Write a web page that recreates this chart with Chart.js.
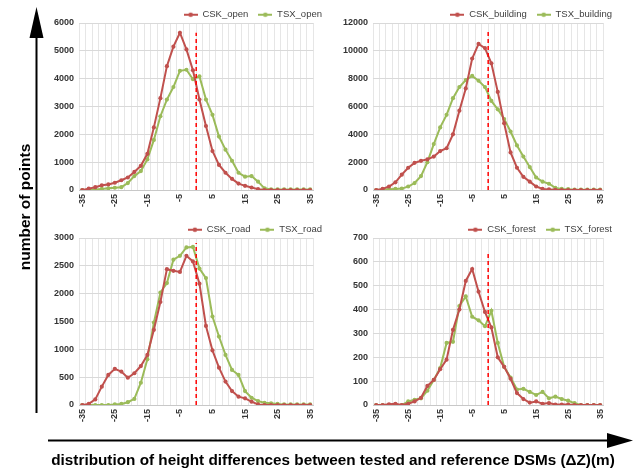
<!DOCTYPE html>
<html>
<head>
<meta charset="utf-8">
<script src="https://cdn.jsdelivr.net/npm/chart.js@4.4.0/dist/chart.umd.min.js"></script>
<style>
body{margin:0;background:#fff;width:633px;height:469px;position:relative;overflow:hidden;font-family:'Liberation Sans',Arial,sans-serif}
.box{position:absolute}
#ytitle{position:absolute;left:25px;top:207px;transform:translate(-50%,-50%) rotate(-90deg);font-weight:bold;font-size:15.5px;white-space:nowrap;color:#000}
#xtitle{position:absolute;left:333px;top:460px;transform:translate(-50%,-50%);font-weight:bold;font-size:15.3px;white-space:nowrap;color:#000}
svg{position:absolute;left:0;top:0}
</style>
</head>
<body>
<div class="box" style="left:40px;top:0"><canvas id="openChart" width="285" height="215"></canvas></div>
<div class="box" style="left:325px;top:0"><canvas id="buildingChart" width="290" height="215"></canvas></div>
<div class="box" style="left:40px;top:215px"><canvas id="roadChart" width="285" height="215"></canvas></div>
<div class="box" style="left:325px;top:215px"><canvas id="forestChart" width="290" height="215"></canvas></div>
<svg width="633" height="469">
  <line x1="36.5" y1="413" x2="36.5" y2="36" stroke="#000" stroke-width="2"/>
  <polygon points="36.5,7 29.5,38 43.5,38" fill="#000"/>
  <line x1="48" y1="440.5" x2="609" y2="440.5" stroke="#000" stroke-width="2"/>
  <polygon points="633,440.5 607,433 607,448" fill="#000"/>
</svg>
<div id="ytitle">number of points</div>
<div id="xtitle">distribution of height differences between tested and reference DSMs (ΔZ)(m)</div>
<script>
// height difference classes (m)
const dz = [-35,-33,-31,-29,-27,-25,-23,-21,-19,-17,-15,-13,-11,-9,-7,-5,-3,-1,1,3,5,7,9,11,13,15,17,19,21,23,25,27,29,31,33,35];

const cskOpen = [0,50,100,170,200,260,350,450,650,870,1300,2250,3300,4450,5150,5650,5050,4300,3250,2300,1400,900,620,400,230,150,90,30,0,0,0,0,0,0,0,0];
const tsxOpen = [0,0,20,40,60,80,100,250,500,680,1100,1800,2650,3250,3700,4280,4320,3980,4080,3250,2700,1920,1450,1050,620,480,500,300,60,20,20,20,20,20,20,20];

const cskBuilding = [0,80,250,550,1100,1600,1950,2100,2200,2400,2800,3000,4000,5700,7300,9450,10500,10200,9100,7050,4800,2700,1600,950,600,250,80,40,10,0,0,0,0,0,0,0];
const tsxBuilding = [0,20,50,80,100,250,500,1000,2000,3300,4500,5400,6600,7400,7900,8200,7850,7400,6400,5800,5100,4200,3200,2400,1650,900,600,450,150,80,60,20,20,20,20,20];

const cskRoad = [0,20,100,330,540,650,600,490,570,700,900,1350,1850,2440,2410,2390,2680,2580,2180,1420,980,670,420,250,150,120,60,10,0,0,0,0,0,0,0,0];
const tsxRoad = [0,0,0,0,0,10,20,50,110,400,820,1480,2020,2190,2610,2680,2830,2840,2450,2280,1590,1230,900,630,540,250,130,70,40,30,20,10,10,10,10,10];

const cskForest = [0,0,3,5,0,5,15,30,80,105,150,190,315,400,520,570,475,390,325,200,160,110,50,25,10,15,5,8,2,2,2,0,0,0,0,0];
const tsxForest = [0,0,0,0,0,15,22,28,60,105,155,260,265,415,455,370,355,330,395,260,160,115,65,68,55,42,55,28,35,25,18,8,0,0,0,0];

// axis max, step and top of the dashed zero line per panel
const yMax = [6000, 12000, 3000, 700];
const yStep = [1000, 2000, 500, 100];
const zeroTop = [5650, 11400, 2910, 637];

const red = '#C0504D';
const green = '#9BBB59';
const font = "'Liberation Sans', Arial, sans-serif";

function legendMark(color){
  const c = document.createElement('canvas');
  c.width = 14; c.height = 8;
  const g = c.getContext('2d');
  g.strokeStyle = color; g.lineWidth = 2;
  g.beginPath(); g.moveTo(0,4); g.lineTo(14,4); g.stroke();
  g.fillStyle = color;
  g.beginPath(); g.arc(7,4,2.3,0,Math.PI*2); g.fill();
  return c;
}

// keep the legend short and flush with the plot's right edge
const legendTweak = {
  id: 'legendTweak',
  beforeLayout(chart){
    const lg = chart.legend;
    if (lg && !lg._wrapped) {
      const fit = lg.fit;
      lg.fit = function(){ fit.call(this); this.height = 23; };
      lg._wrapped = true;
    }
  },
  afterLayout(chart){
    chart.legend.left += 9;
    chart.legend.right += 9;
  }
};

function makeChart(id, csk, tsx, names, k, yW){
  const pts = arr => arr.map((v,i) => ({x: dz[i], y: v}));
  const line = (label, data, color) => ({
    label: label, data: pts(data), borderColor: color, backgroundColor: color,
    borderWidth: 2, pointRadius: 2.1, pointBorderWidth: 0, tension: 0
  });
  return new Chart(document.getElementById(id), {
    type: 'line',
    plugins: [legendTweak],
    data: {
      datasets: [
        line(names[0], csk, red),
        line(names[1], tsx, green),
        {label: 'zero', data: [{x:0,y:0},{x:0,y:zeroTop[k]}], borderColor: '#FF0000',
         borderDash: [4,3], borderWidth: 1.5, pointRadius: 0, order: -1}
      ]
    },
    options: {
      responsive: false,
      animation: false,
      layout: {padding: {top: 0, right: 2, bottom: 0, left: 0}},
      plugins: {
        tooltip: {enabled: false},
        legend: {
          position: 'top', align: 'end',
          labels: {
            usePointStyle: true, pointStyleWidth: 14, padding: 10,
            color: '#404040', font: {size: 9.5, family: font},
            generateLabels: chart => [0,1].map(i => ({
              text: chart.data.datasets[i].label,
              pointStyle: legendMark(i === 0 ? red : green),
              fontColor: '#404040', datasetIndex: i, lineWidth: 0, strokeStyle: 'transparent', fillStyle: 'transparent'
            }))
          }
        }
      },
      scales: {
        x: {
          type: 'linear', min: -36, max: 36,
          afterBuildTicks: s => { s.ticks = dz.map(v => ({value: v})); },
          afterFit: s => { s.height = 25; },
          grid: {offset: true, color: '#e6e6e6', drawTicks: false},
          border: {color: '#c8c8c8'},
          ticks: {
            autoSkip: false, minRotation: 90, maxRotation: 90, padding: 4,
            color: '#333', font: {size: 9, weight: 'bold', family: font},
            callback: v => ((v + 35) % 10 === 0 ? String(v) : '')
          }
        },
        y: {
          min: 0, max: yMax[k],
          afterFit: s => { s.width = yW; },
          grid: {color: '#d9d9d9', drawTicks: false},
          border: {display: false},
          ticks: {
            stepSize: yStep[k], padding: 5,
            color: '#333', font: {size: 9, weight: 'bold', family: font},
            callback: v => String(v)
          }
        }
      }
    }
  });
}

const openChart = makeChart('openChart', cskOpen, tsxOpen, ['CSK_open','TSX_open'], 0, 39);
const buildingChart = makeChart('buildingChart', cskBuilding, tsxBuilding, ['CSK_building','TSX_building'], 1, 48);
const roadChart = makeChart('roadChart', cskRoad, tsxRoad, ['CSK_road','TSX_road'], 2, 39);
const forestChart = makeChart('forestChart', cskForest, tsxForest, ['CSK_forest','TSX_forest'], 3, 48);
</script>
</body>
</html>
